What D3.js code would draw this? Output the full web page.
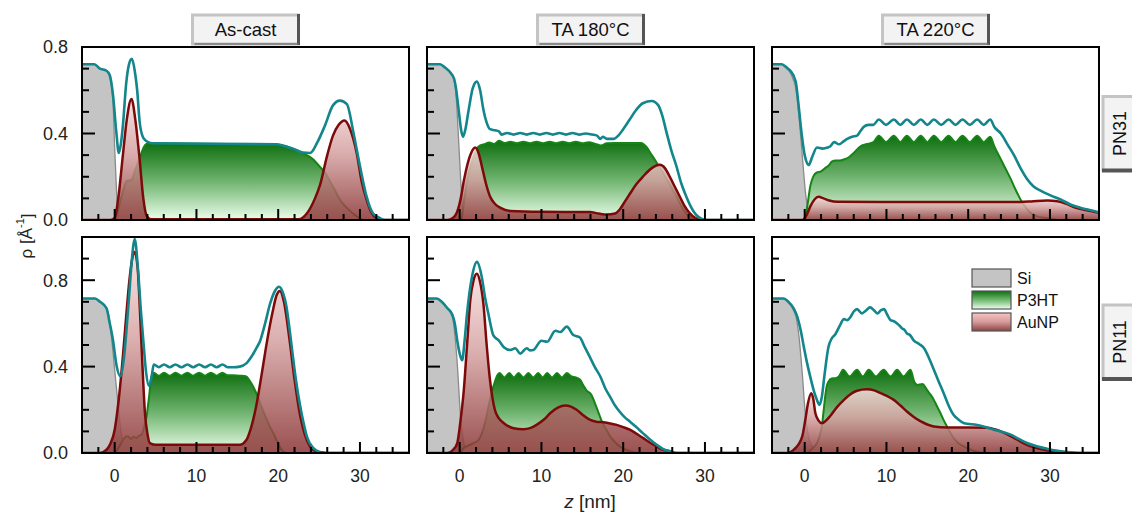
<!DOCTYPE html>
<html><head><meta charset="utf-8">
<script src="https://cdn.jsdelivr.net/npm/d3@7"></script>
<style>body{margin:0;background:#fff;} svg{display:block;font-family:"Liberation Sans",Arial,sans-serif;}</style>
</head><body><svg id="c" width="1132" height="514"></svg>
<script>
// ---------- labels ----------
const conditions = ["As-cast", "TA 180°C", "TA 220°C"];
const samples = ["PN31", "PN11"];
const seriesNames = ["Si", "P3HT", "AuNP"];
const xTickValues = [0, 10, 20, 30];
const yTickValues = [0.0, 0.4, 0.8];
const xDomain = [-4, 36];
const yMaxPerRow = [0.8, 1.0];

// ---------- PN31, As-cast ----------
const si_PN31_AsCast = [[-4,0.72],[-2.5,0.72],[-1.8,0.70],[-1,0.69],[-0.7,0.67],[-0.4,0.62],[-0.2,0.54],[0,0.33],[0.15,0.2],[0.3,0.08],[0.45,0.015],[0.7,0],[36,0]];
const p3ht_PN31_AsCast = [[-4,0],[0,0],[0.5,0.06],[1.0,0.13],[1.47,0.18],[2.07,0.186],[2.5,0.23],[3.1,0.29],[3.6,0.34],[4.1,0.355],[19.5,0.35],[20.5,0.345],[21.8,0.33],[23,0.31],[24.3,0.28],[25.0,0.25],[25.7,0.22],[26.4,0.175],[27.1,0.125],[27.8,0.08],[28.4,0.056],[29.6,0.017],[30.5,0],[36,0]];
const aunp_PN31_AsCast = [[-4,0],[-0.5,0],[0,0.01],[0.5,0.12],[1.0,0.30],[1.5,0.47],[2.05,0.56],[2.5,0.47],[3.0,0.30],[3.5,0.10],[3.9,0.02],[4.4,0.003],[22.5,0.003],[23.5,0.03],[24.5,0.1],[25.1,0.16],[26,0.3],[26.7,0.39],[27.4,0.44],[28.1,0.46],[28.8,0.42],[29.6,0.31],[30.2,0.18],[30.8,0.095],[31.4,0.035],[32,0.01],[33,0],[36,0]];
const total_PN31_AsCast = [[-4,0.72],[-2.5,0.72],[-1.8,0.70],[-1,0.69],[-0.6,0.67],[-0.2,0.575],[0.2,0.405],[0.5,0.31],[0.75,0.35],[1.0,0.435],[1.4,0.63],[1.75,0.72],[2.1,0.745],[2.45,0.69],[2.75,0.6],[3.06,0.45],[3.5,0.38],[4.1,0.36],[4.6,0.355],[19.8,0.35],[21,0.34],[21.8,0.33],[23,0.312],[23.9,0.31],[24.8,0.36],[25.7,0.435],[26.7,0.53],[27.55,0.552],[28.4,0.536],[29.2,0.405],[30,0.25],[30.8,0.11],[31.6,0.03],[32.4,0.01],[33,0],[36,0]];

// ---------- PN31, TA 180°C ----------
const si_PN31_TA180 = [[-4,0.72],[-2.4,0.72],[-1.8,0.705],[-1.3,0.69],[-0.95,0.67],[-0.7,0.65],[-0.45,0.58],[-0.2,0.42],[0.1,0.2],[0.35,0.05],[0.5,0.01],[0.7,0],[36,0]];
const p3ht_PN31_TA180 = [[-4,0],[0.2,0],[0.5,0.08],[1.0,0.2],[1.6,0.28],[2.3,0.34],[3.0,0.35],[3.6,0.358],[4.2,0.352],[4.8,0.366],[5.5,0.356],[6.2,0.362],[7.0,0.355],[7.8,0.362],[8.6,0.355],[9.4,0.362],[10.2,0.355],[11,0.362],[11.8,0.355],[12.6,0.362],[13.4,0.355],[14.2,0.362],[15,0.355],[15.8,0.36],[16.6,0.352],[17.3,0.345],[18,0.355],[19,0.356],[20,0.356],[21,0.356],[22.2,0.356],[22.8,0.34],[23.5,0.3],[24.1,0.265],[24.7,0.23],[25.3,0.19],[25.9,0.15],[26.5,0.11],[27.1,0.065],[27.7,0.03],[28.5,0.005],[29,0],[36,0]];
const aunp_PN31_TA180 = [[-4,0],[-1.5,0],[-0.8,0.01],[-0.2,0.05],[0.1,0.095],[0.5,0.18],[0.9,0.25],[1.4,0.31],[1.9,0.335],[2.3,0.31],[2.7,0.25],[3.2,0.17],[3.7,0.11],[4.3,0.075],[5,0.056],[6.2,0.042],[10,0.038],[15.9,0.037],[17,0.03],[18,0.025],[19,0.03],[19.6,0.05],[20.2,0.085],[20.8,0.12],[21.6,0.165],[22.4,0.2],[23.5,0.24],[24.5,0.255],[25.1,0.24],[25.7,0.2],[26.3,0.155],[26.9,0.11],[27.5,0.065],[28.1,0.033],[28.8,0.01],[29.5,0],[36,0]];
const total_PN31_TA180 = [[-4,0.72],[-2.4,0.72],[-1.8,0.705],[-1.1,0.68],[-0.7,0.655],[-0.5,0.62],[-0.1,0.5],[0.2,0.41],[0.4,0.385],[0.7,0.42],[1.1,0.51],[1.6,0.61],[2.1,0.64],[2.5,0.6],[2.9,0.51],[3.3,0.45],[3.7,0.42],[4.3,0.415],[4.8,0.41],[5.1,0.395],[5.8,0.402],[6.6,0.395],[7.4,0.402],[8.2,0.395],[9.0,0.402],[9.8,0.395],[10.6,0.402],[11.4,0.395],[12.2,0.402],[13,0.395],[13.8,0.402],[14.6,0.395],[15.4,0.4],[16.2,0.395],[16.8,0.39],[17.2,0.375],[17.5,0.385],[18,0.375],[18.8,0.375],[19.4,0.39],[20,0.42],[20.8,0.465],[21.6,0.51],[22.4,0.54],[23.5,0.55],[24.3,0.53],[24.8,0.48],[25.3,0.405],[25.9,0.32],[26.5,0.25],[27.1,0.17],[27.7,0.11],[28.3,0.06],[28.9,0.025],[29.5,0.008],[30.2,0],[36,0]];

// ---------- PN31, TA 220°C ----------
const si_PN31_TA220 = [[-4,0.72],[-2.8,0.72],[-2.2,0.70],[-1.75,0.68],[-1.4,0.65],[-1.1,0.61],[-0.7,0.48],[-0.3,0.30],[0.1,0.125],[0.5,0.03],[0.8,0.005],[1.0,0],[36,0]];
const p3ht_PN31_TA220 = [[-4,0],[0,0],[0.3,0.06],[0.7,0.16],[1.1,0.205],[1.5,0.22],[2.0,0.225],[2.5,0.24],[3.0,0.255],[3.3,0.27],[3.8,0.275],[4.3,0.275],[4.8,0.28],[5.4,0.29],[6.0,0.31],[6.5,0.33],[6.8,0.34],[7.5,0.35],[8.4,0.36],[9.06,0.39],[9.95,0.36],[10.9,0.39],[11.7,0.36],[12.5,0.39],[13.35,0.36],[14.2,0.39],[15.0,0.36],[15.8,0.39],[16.7,0.36],[17.6,0.39],[18.45,0.36],[19.3,0.39],[20.2,0.36],[21.1,0.39],[21.9,0.36],[22.7,0.385],[23.2,0.34],[24.0,0.28],[24.6,0.235],[25.2,0.19],[25.8,0.14],[26.4,0.095],[27.0,0.06],[27.6,0.033],[28.4,0.018],[29.3,0.01],[30.5,0.003],[31.5,0],[36,0]];
const aunp_PN31_TA220 = [[-4,0],[-0.3,0],[0.2,0.02],[0.7,0.064],[1.2,0.095],[1.7,0.107],[2.3,0.1],[3.0,0.09],[4.0,0.084],[10,0.083],[20,0.083],[26.4,0.083],[28,0.087],[29.7,0.09],[30.9,0.087],[32,0.075],[32.9,0.06],[34.5,0.045],[36,0.033]];
const total_PN31_TA220 = [[-4,0.72],[-2.8,0.72],[-2.2,0.705],[-1.75,0.69],[-1.1,0.64],[-0.8,0.55],[-0.5,0.44],[0,0.3],[0.5,0.255],[0.9,0.29],[1.5,0.335],[2.2,0.33],[2.8,0.335],[3.1,0.34],[3.6,0.36],[4.2,0.35],[4.8,0.365],[5.2,0.375],[5.8,0.385],[6.4,0.39],[6.8,0.41],[7.2,0.43],[7.8,0.44],[8.4,0.44],[9.06,0.465],[9.95,0.44],[10.9,0.465],[11.7,0.44],[12.5,0.465],[13.35,0.44],[14.2,0.465],[15.0,0.44],[15.8,0.465],[16.7,0.44],[17.6,0.465],[18.45,0.44],[19.3,0.465],[20.2,0.44],[21.1,0.465],[21.9,0.44],[22.7,0.465],[23.2,0.43],[24,0.40],[24.8,0.35],[25.6,0.30],[26.4,0.24],[27.2,0.19],[28.0,0.155],[28.9,0.135],[30,0.115],[31.3,0.095],[32.5,0.072],[33.8,0.056],[35,0.045],[36,0.036]];

// ---------- PN11, As-cast ----------
const si_PN11_AsCast = [[-4,0.715],[-2.4,0.715],[-1.8,0.70],[-1.0,0.67],[-0.7,0.63],[-0.4,0.54],[0,0.385],[0.4,0.23],[0.8,0.09],[1.2,0.02],[1.6,0],[36,0]];
const p3ht_PN11_AsCast = [[-4,0],[0,0],[0.4,0.02],[0.8,0.046],[1.2,0.07],[1.6,0.077],[2.0,0.065],[2.3,0.075],[2.65,0.07],[3.0,0.08],[3.3,0.085],[3.6,0.12],[3.9,0.17],[4.2,0.26],[4.5,0.355],[4.78,0.372],[5.4,0.358],[6.04,0.372],[6.73,0.358],[7.43,0.372],[8.16,0.358],[8.9,0.372],[9.6,0.358],[10.33,0.372],[11.05,0.358],[11.76,0.372],[12.47,0.358],[13.18,0.372],[13.8,0.36],[14.5,0.36],[15.3,0.358],[16.1,0.354],[16.5,0.335],[16.9,0.31],[17.4,0.27],[17.8,0.23],[18.2,0.19],[18.6,0.154],[19.0,0.12],[19.4,0.092],[19.9,0.05],[20.4,0.015],[21,0],[36,0]];
const aunp_PN11_AsCast = [[-4,0],[-1.8,0],[-1,0.015],[-0.5,0.045],[0,0.108],[0.5,0.25],[1.0,0.446],[1.4,0.63],[1.8,0.8],[2.1,0.89],[2.45,0.93],[2.8,0.86],[3.1,0.65],[3.4,0.4],[3.7,0.185],[4.0,0.09],[4.3,0.046],[5.1,0.038],[15.3,0.038],[16.1,0.06],[16.7,0.12],[17.3,0.215],[18.0,0.37],[18.6,0.51],[19.3,0.65],[19.8,0.73],[20.2,0.75],[20.7,0.7],[21.4,0.52],[22.0,0.34],[22.7,0.17],[23.3,0.08],[23.9,0.03],[24.5,0.01],[25.1,0.005],[26,0],[36,0]];
const total_PN11_AsCast = [[-4,0.715],[-2.4,0.715],[-1.8,0.70],[-1.0,0.67],[-0.6,0.6],[-0.2,0.52],[0.2,0.41],[0.7,0.355],[1.1,0.43],[1.4,0.55],[1.75,0.72],[2.0,0.85],[2.45,0.99],[2.85,0.85],[3.2,0.66],[3.5,0.52],[3.85,0.37],[4.2,0.31],[4.5,0.35],[4.78,0.41],[5.4,0.397],[6.04,0.41],[6.73,0.397],[7.43,0.41],[8.16,0.397],[8.9,0.41],[9.6,0.397],[10.33,0.41],[11.05,0.397],[11.76,0.41],[12.47,0.397],[13.18,0.41],[13.8,0.397],[14.5,0.397],[15.3,0.4],[16.1,0.415],[16.8,0.45],[17.4,0.49],[17.8,0.52],[18.4,0.6],[19,0.69],[19.6,0.75],[20.1,0.77],[20.6,0.74],[21,0.68],[21.4,0.57],[21.8,0.446],[22.2,0.33],[22.7,0.215],[23.1,0.14],[23.5,0.077],[24.3,0.023],[25,0.005],[25.5,0],[36,0]];

// ---------- PN11, TA 180°C ----------
const si_PN11_TA180 = [[-4,0.715],[-2.8,0.715],[-2.2,0.70],[-1.5,0.67],[-0.9,0.63],[-0.6,0.55],[-0.3,0.415],[0.1,0.17],[0.5,0.046],[0.8,0.01],[1.0,0],[36,0]];
const p3ht_PN11_TA180 = [[-4,0],[0,0],[0.5,0.023],[1.1,0.035],[1.7,0.046],[2.3,0.06],[2.7,0.09],[3.1,0.14],[3.5,0.21],[3.9,0.28],[4.3,0.33],[4.6,0.36],[4.88,0.37],[5.47,0.35],[6.06,0.37],[6.63,0.35],[7.2,0.37],[7.8,0.35],[8.4,0.37],[9.0,0.35],[9.6,0.37],[10.15,0.35],[10.7,0.37],[11.3,0.35],[11.9,0.37],[12.5,0.35],[13.1,0.37],[13.7,0.354],[14.2,0.35],[14.7,0.34],[15.1,0.315],[15.5,0.29],[16.1,0.27],[16.7,0.215],[17.4,0.146],[17.9,0.11],[18.4,0.077],[19.0,0.05],[19.6,0.03],[20.8,0.008],[22,0],[36,0]];
const aunp_PN11_TA180 = [[-4,0],[-1.5,0],[-0.8,0.015],[-0.3,0.046],[0.1,0.15],[0.5,0.29],[0.9,0.5],[1.3,0.71],[1.7,0.8],[2.1,0.83],[2.5,0.79],[2.9,0.69],[3.3,0.5],[3.7,0.34],[4.3,0.2],[4.8,0.16],[5.4,0.138],[6.6,0.115],[7.8,0.11],[8.6,0.115],[9.4,0.13],[10.3,0.155],[11.1,0.185],[12.0,0.21],[12.9,0.22],[13.6,0.215],[14.3,0.2],[15.1,0.175],[15.9,0.154],[16.7,0.145],[17.6,0.142],[18.4,0.137],[19.2,0.13],[20.0,0.12],[20.8,0.108],[21.6,0.09],[22.4,0.07],[23.2,0.05],[24.1,0.03],[24.9,0.015],[25.7,0.008],[26.5,0],[36,0]];
const total_PN11_TA180 = [[-4,0.715],[-2.8,0.715],[-2.2,0.70],[-1.5,0.67],[-0.9,0.64],[-0.6,0.6],[-0.3,0.52],[0.1,0.446],[0.3,0.43],[0.6,0.52],[0.9,0.646],[1.5,0.815],[2.1,0.885],[2.7,0.815],[3.1,0.72],[3.5,0.646],[4.1,0.546],[4.8,0.52],[5.4,0.49],[6.2,0.477],[6.8,0.485],[7.4,0.46],[8.2,0.485],[8.6,0.475],[9.0,0.477],[10,0.52],[10.7,0.515],[11.7,0.566],[12.3,0.56],[13.1,0.585],[13.9,0.546],[14.7,0.535],[15.3,0.49],[15.9,0.446],[16.5,0.4],[17.2,0.354],[17.8,0.3],[18.4,0.26],[19.0,0.22],[19.6,0.19],[20.2,0.165],[20.8,0.146],[21.6,0.12],[22.4,0.092],[23.2,0.065],[24.1,0.038],[24.9,0.018],[25.7,0.008],[26.5,0],[36,0]];

// ---------- PN11, TA 220°C ----------
const si_PN11_TA220 = [[-4,0.715],[-2.6,0.715],[-2.0,0.70],[-1.35,0.66],[-1.0,0.62],[-0.7,0.54],[-0.3,0.37],[0.1,0.17],[0.5,0.07],[0.9,0.03],[1.3,0.01],[1.8,0],[36,0]];
const p3ht_PN11_TA220 = [[-4,0],[0.3,0],[0.9,0.02],[1.5,0.046],[1.8,0.075],[2.1,0.123],[2.3,0.19],[2.5,0.26],[2.7,0.31],[2.9,0.33],[3.3,0.345],[3.75,0.346],[4.2,0.355],[4.7,0.385],[5.5,0.354],[6.4,0.385],[7.1,0.354],[7.84,0.385],[8.7,0.354],[9.67,0.385],[10.5,0.354],[11.3,0.385],[12.1,0.354],[12.94,0.385],[13.4,0.33],[13.8,0.315],[14.4,0.32],[15.0,0.29],[15.4,0.27],[15.8,0.246],[16.2,0.215],[16.6,0.185],[17.0,0.152],[17.4,0.123],[17.8,0.095],[18.2,0.07],[18.8,0.045],[19.5,0.03],[20.7,0.01],[22,0],[36,0]];
const aunp_PN11_TA220 = [[-4,0],[-2.2,0],[-1.2,0.02],[-0.3,0.077],[0.1,0.16],[0.4,0.23],[0.8,0.277],[1.05,0.25],[1.3,0.185],[1.7,0.15],[2.1,0.138],[2.6,0.15],[3.1,0.17],[3.9,0.21],[4.8,0.246],[5.6,0.272],[6.4,0.288],[7.6,0.295],[8.5,0.29],[9.3,0.277],[10.1,0.263],[10.9,0.246],[11.7,0.22],[12.5,0.192],[13.3,0.168],[14.2,0.146],[15.0,0.132],[15.8,0.123],[17.4,0.118],[20,0.118],[22.3,0.117],[23.2,0.11],[24.0,0.1],[24.8,0.086],[25.6,0.07],[26.4,0.053],[27.2,0.038],[28.0,0.027],[28.9,0.018],[30.5,0.008],[32,0.003],[33.5,0],[36,0]];
const total_PN11_TA220 = [[-4,0.715],[-2.6,0.715],[-2.0,0.7],[-1.35,0.67],[-0.9,0.63],[-0.5,0.57],[-0.1,0.49],[0.3,0.415],[0.7,0.35],[1.1,0.29],[1.5,0.245],[1.8,0.223],[2.1,0.26],[2.4,0.354],[2.9,0.49],[3.3,0.53],[3.75,0.55],[4.3,0.59],[4.8,0.62],[5.2,0.615],[5.6,0.63],[6.0,0.655],[6.4,0.666],[7.0,0.646],[7.5,0.66],[8.0,0.674],[8.5,0.66],[8.9,0.646],[9.3,0.66],[9.7,0.666],[10.1,0.64],[10.5,0.615],[10.9,0.61],[11.3,0.6],[11.6,0.59],[11.9,0.577],[12.2,0.57],[12.5,0.554],[12.9,0.545],[13.3,0.523],[14,0.505],[14.6,0.485],[15.2,0.44],[15.8,0.385],[16.4,0.33],[17.0,0.277],[17.6,0.22],[18.2,0.177],[18.8,0.155],[19.5,0.138],[21.1,0.13],[22.1,0.12],[23.1,0.108],[24.2,0.097],[25.2,0.085],[26.2,0.065],[27.2,0.046],[28.2,0.033],[29.3,0.023],[30.3,0.014],[31.3,0.008],[33,0.002],[34,0],[36,0]];

// ---------- panel table ----------
const panels = [
  {row:0, col:0, si:si_PN31_AsCast, p3ht:p3ht_PN31_AsCast, aunp:aunp_PN31_AsCast, total:total_PN31_AsCast},
  {row:0, col:1, si:si_PN31_TA180,  p3ht:p3ht_PN31_TA180,  aunp:aunp_PN31_TA180,  total:total_PN31_TA180},
  {row:0, col:2, si:si_PN31_TA220,  p3ht:p3ht_PN31_TA220,  aunp:aunp_PN31_TA220,  total:total_PN31_TA220},
  {row:1, col:0, si:si_PN11_AsCast, p3ht:p3ht_PN11_AsCast, aunp:aunp_PN11_AsCast, total:total_PN11_AsCast},
  {row:1, col:1, si:si_PN11_TA180,  p3ht:p3ht_PN11_TA180,  aunp:aunp_PN11_TA180,  total:total_PN11_TA180},
  {row:1, col:2, si:si_PN11_TA220,  p3ht:p3ht_PN11_TA220,  aunp:aunp_PN11_TA220,  total:total_PN11_TA220}
];

// ---------- layout ----------
const colX = [[82,409],[427,754],[772,1099]];
const rowY = [[47,220],[237,453]];
const C = {si:"#c4c4c4", siLine:"#8a8a8a", p3Line:"#168416", auLine:"#7c0a0a", total:"#13868b"};

const svg = d3.select("#c");
const defs = svg.append("defs");
function grad(id, stops){
  const g = defs.append("linearGradient").attr("id",id).attr("x1",0).attr("y1",0).attr("x2",0).attr("y2",1);
  stops.forEach(s=>g.append("stop").attr("offset",s[0]).attr("stop-color",s[1]));
}
grad("gP3", [[0,"#0f6f0f"],[0.5,"#70b470"],[1,"#ecffec"]]);
grad("gAu", [[0,"#f8dede"],[0.45,"#d4a0a0"],[1,"#8a3434"]]);
grad("gAuLeg", [[0,"#f7c4c4"],[0.5,"#d79a9a"],[1,"#8c4242"]]);
grad("gP3Leg", [[0,"#0f6f0f"],[0.55,"#7cc07c"],[1,"#f0fff0"]]);

panels.forEach((p,i)=>{
  const [x0,x1] = colX[p.col], [y0,y1] = rowY[p.row];
  const x = d3.scaleLinear().domain(xDomain).range([x0,x1]);
  const y = d3.scaleLinear().domain([0, yMaxPerRow[p.row]]).range([y1,y0]);
  defs.append("clipPath").attr("id","clip"+i).append("rect")
    .attr("x",x0).attr("y",y0).attr("width",x1-x0).attr("height",y1-y0);
  const g = svg.append("g").attr("clip-path",`url(#clip${i})`);
  const area = d3.area().x(d=>x(d[0])).y0(y(0)).y1(d=>y(d[1])).curve(d3.curveMonotoneX);
  const line = d3.line().x(d=>x(d[0])).y(d=>y(d[1])).curve(d3.curveMonotoneX);

  g.append("path").datum(p.si).attr("d",area).attr("fill",C.si);
  g.append("path").datum(p.si).attr("d",line).attr("fill","none").attr("stroke",C.siLine).attr("stroke-width",1.3);
  g.append("path").datum(p.p3ht).attr("d",area).attr("fill","url(#gP3)");
  g.append("path").datum(p.p3ht).attr("d",line).attr("fill","none").attr("stroke",C.p3Line).attr("stroke-width",2);
  g.append("path").datum(p.aunp).attr("d",area).attr("fill","url(#gAu)").attr("fill-opacity",0.86);
  g.append("path").datum(p.aunp).attr("d",line).attr("fill","none").attr("stroke",C.auLine).attr("stroke-width",2.5);
  g.append("path").datum(p.total).attr("d",line).attr("fill","none").attr("stroke",C.total).attr("stroke-width",2.6);

  // ticks (inward)
  const ax = svg.append("g").attr("stroke","#000").attr("stroke-width",2);
  d3.range(-2, 36, 2).forEach(v=>{
    const major = v % 10 === 0;
    ax.append("line").attr("x1",x(v)).attr("x2",x(v)).attr("y1",y1).attr("y2",y1-(major?11:6));
  });
  d3.range(1, Math.round(yMaxPerRow[p.row]*10), 1).forEach(k=>{
    const v = k/10, major = k % 4 === 0;
    ax.append("line").attr("x1",x0).attr("x2",x0+(major?13:7)).attr("y1",y(v)).attr("y2",y(v));
  });
  // frame
  svg.append("rect").attr("x",x0).attr("y",y0).attr("width",x1-x0).attr("height",y1-y0)
    .attr("fill","none").attr("stroke","#000").attr("stroke-width",2);

  if (p.col === 0) {
    yTickValues.forEach(v=>{
      svg.append("text").attr("x",x0-14).attr("y",y(v)).attr("dy","0.36em")
        .attr("text-anchor","end").attr("font-size",18).attr("fill","#222").text(v.toFixed(1));
    });
  }
  if (p.row === 1) {
    xTickValues.forEach(v=>{
      svg.append("text").attr("x",x(v)).attr("y",482).attr("text-anchor","middle")
        .attr("font-size",17.5).attr("fill","#222").text(v);
    });
  }
});

// column header buttons
conditions.forEach((t,c)=>{
  const cx = (colX[c][0]+colX[c][1])/2;
  const w = 106, h = 29, bx = cx - w/2, by = 15;
  const g = svg.append("g");
  g.append("rect").attr("x",bx).attr("y",by).attr("width",w).attr("height",h).attr("fill","#f3f3f3")
    .attr("stroke","#c4c4c4").attr("stroke-width",3);
  g.append("line").attr("x1",bx+w).attr("x2",bx+w).attr("y1",by-1).attr("y2",by+h+1).attr("stroke","#555").attr("stroke-width",3);
  g.append("line").attr("x1",bx+2).attr("x2",bx+w).attr("y1",by+h).attr("y2",by+h).attr("stroke","#777").attr("stroke-width",1.5);
  g.append("text").attr("x",cx).attr("y",by+h/2).attr("dy","0.36em").attr("text-anchor","middle")
    .attr("font-size",18.5).attr("fill","#111").text(t);
});

// row labels on the right
samples.forEach((t,r)=>{
  const cy = (rowY[r][0]+rowY[r][1])/2 - (r===0?0:3);
  const h = 74, bx = 1103, by = cy - h/2;
  const g = svg.append("g");
  g.append("rect").attr("x",bx).attr("y",by).attr("width",40).attr("height",h).attr("fill","#f3f3f3")
    .attr("stroke","#c4c4c4").attr("stroke-width",3);
  g.append("line").attr("x1",bx-1).attr("x2",1132).attr("y1",by+h).attr("y2",by+h).attr("stroke","#555").attr("stroke-width",4);
  g.append("text").attr("transform",`translate(${1120},${cy}) rotate(-90)`).attr("dy","0.36em")
    .attr("text-anchor","middle").attr("font-size",18).attr("fill","#111").text(t);
});

// axis titles
const yt = svg.append("text").attr("transform","translate(26,236) rotate(-90)").attr("dy","0.36em")
  .attr("text-anchor","middle").attr("font-size",17).attr("fill","#222");
yt.append("tspan").text("ρ [Å");
yt.append("tspan").attr("font-size",11).attr("dy","-0.7em").text("-1");
yt.append("tspan").attr("dy","0.5em").text("]");

const xt = svg.append("text").attr("x",590).attr("y",508).attr("text-anchor","middle").attr("font-size",19).attr("fill","#222");
xt.append("tspan").attr("font-style","italic").text("z");
xt.append("tspan").text(" [nm]");

// legend
const legFills = ["#c4c4c4","url(#gP3Leg)","url(#gAuLeg)"];
const legY = [269, 291, 313];
seriesNames.forEach((n,i)=>{
  svg.append("rect").attr("x",972).attr("y",legY[i]).attr("width",39).attr("height",18)
    .attr("fill",legFills[i]).attr("stroke","#555").attr("stroke-width",1.2);
  svg.append("text").attr("x",1017).attr("y",legY[i]+9).attr("dy","0.36em").attr("font-size",16)
    .attr("fill","#111").text(n);
});
</script></body></html>
